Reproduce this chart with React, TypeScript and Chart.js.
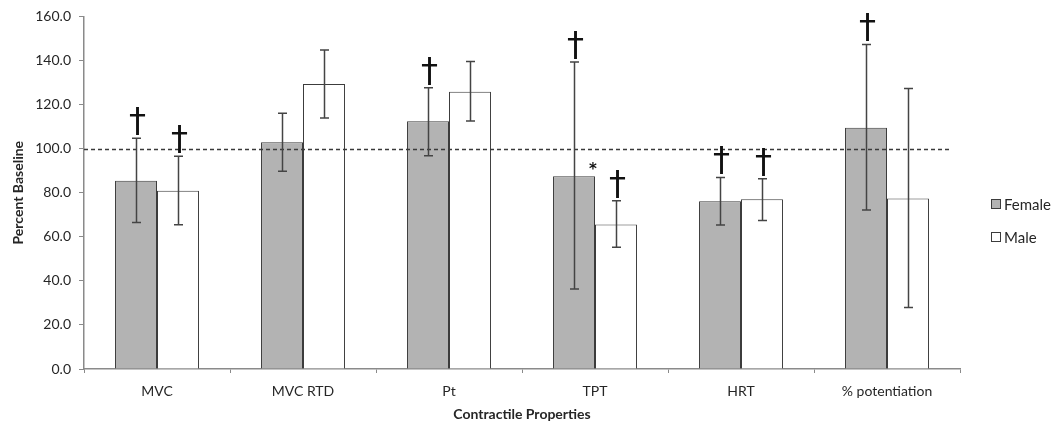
import React, { useEffect, useRef } from "react";
import { Chart, registerables } from "chart.js";

Chart.register(...registerables);

const categories = ["MVC", "MVC RTD", "Pt", "TPT", "HRT", "% potentiation"];
const femaleMeans = [85.4, 102.9, 112.4, 87.5, 76.1, 109.5];
const femaleUpper = [104.7, 116.1, 127.6, 139.3, 86.9, 147.3];
const femaleLower = [66.5, 89.7, 96.8, 36.3, 65.3, 72.1];
const maleMeans = [80.9, 129.3, 125.8, 65.6, 77.0, 77.4];
const maleUpper = [96.5, 144.7, 139.5, 76.4, 86.3, 127.3];
const maleLower = [65.5, 113.9, 112.5, 55.3, 67.4, 27.9];
const femaleMarks = ["†", "", "†", "†", "†", "†"];
const maleMarks = ["†", "", "", "†", "†", ""];
const femaleStars = ["", "", "", "*", "", ""];
const seriesNames = ["Female", "Male"];
const yMin = 0;
const yMax = 160;
const yStep = 20;
const baselineValue = 100;

const FONT = "Lato, 'Open Sans', sans-serif";
const FEMALE_FILL = "#b3b3b3";
const MALE_FILL = "#ffffff";
const BAR_BORDER = "#3c3c3c";
const TEXT = "#262626";

const overlayPlugin = {
  id: "overlay",
  afterDatasetsDraw(chart: any) {
    const ctx = chart.ctx;
    const y = chart.scales.y;
    const area = chart.chartArea;
    ctx.save();
    // baseline dashed line
    const by = Math.round(y.getPixelForValue(baselineValue)) + 0.5;
    ctx.strokeStyle = "#3a3a3a";
    ctx.lineWidth = 1.5;
    ctx.setLineDash([4, 3]);
    ctx.beginPath();
    ctx.moveTo(area.left, by);
    ctx.lineTo(area.right - 10, by);
    ctx.stroke();
    ctx.setLineDash([]);

    const errs = [
      { up: femaleUpper, lo: femaleLower, marks: femaleMarks, stars: femaleStars },
      { up: maleUpper, lo: maleLower, marks: maleMarks, stars: ["", "", "", "", "", ""] },
    ];
    errs.forEach((e, di) => {
      const meta = chart.getDatasetMeta(di);
      meta.data.forEach((bar: any, i: number) => {
        const x = Math.round(bar.x) + 0.5;
        const yt = y.getPixelForValue(e.up[i]);
        const yb = y.getPixelForValue(e.lo[i]);
        ctx.strokeStyle = "#444444";
        ctx.lineWidth = 1.5;
        ctx.beginPath();
        ctx.moveTo(x, yt);
        ctx.lineTo(x, yb);
        ctx.moveTo(x - 4.5, yt);
        ctx.lineTo(x + 4.5, yt);
        ctx.moveTo(x - 4.5, yb);
        ctx.lineTo(x + 4.5, yb);
        ctx.stroke();
        if (e.marks[i]) {
          ctx.font = "34px 'DejaVu Sans', sans-serif";
          ctx.fillStyle = "#111";
          ctx.textAlign = "center";
          const m = ctx.measureText(e.marks[i]);
          const desc = m.actualBoundingBoxDescent || 0;
          ctx.textBaseline = "alphabetic";
          ctx.fillText(e.marks[i], x + 1, yt - 3 - desc);
        }
        if (e.stars[i]) {
          ctx.font = "bold 15px 'DejaVu Sans', sans-serif";
          ctx.fillStyle = "#111";
          ctx.textAlign = "center";
          ctx.textBaseline = "alphabetic";
          const rightEdge = bar.x + bar.width / 2;
          const topY = y.getPixelForValue(femaleMeans[i]);
          ctx.fillText(e.stars[i], rightEdge - 2, topY - 2);
        }
      });
    });

    // legend
    ctx.font = `15px ${FONT}`;
    ctx.textAlign = "left";
    ctx.textBaseline = "middle";
    const fills = [FEMALE_FILL, MALE_FILL];
    seriesNames.forEach((name, i) => {
      const ly = 204 + i * 33;
      ctx.fillStyle = fills[i];
      ctx.fillRect(991.5, ly - 4.5, 9, 9);
      ctx.strokeStyle = BAR_BORDER;
      ctx.lineWidth = 1;
      ctx.strokeRect(991.5, ly - 4.5, 9, 9);
      ctx.fillStyle = TEXT;
      ctx.fillText(name, 1004, ly + 1);
    });
    ctx.restore();
  },
};

export default function App() {
  const ref = useRef<HTMLCanvasElement>(null);
  useEffect(() => {
    const chart = new Chart(ref.current!, {
      type: "bar",
      data: {
        labels: categories,
        datasets: [
          {
            label: seriesNames[0],
            data: femaleMeans,
            backgroundColor: FEMALE_FILL,
            borderColor: BAR_BORDER,
            borderWidth: 1,
            barPercentage: 1,
            categoryPercentage: 0.575,
          },
          {
            label: seriesNames[1],
            data: maleMeans,
            backgroundColor: MALE_FILL,
            borderColor: BAR_BORDER,
            borderWidth: 1,
            barPercentage: 1,
            categoryPercentage: 0.575,
          },
        ],
      },
      options: {
        responsive: false,
        animation: false,
        layout: { padding: { top: 13, right: 99, left: 0, bottom: 0 } },
        plugins: { legend: { display: false }, tooltip: { enabled: false } },
        scales: {
          x: {
            grid: {
              drawOnChartArea: false,
              drawTicks: true,
              tickLength: 4,
              color: "#8a8a8a",
              offset: true,
            },
            border: { display: true, color: "#8a8a8a", width: 1.5 },
            ticks: {
              color: TEXT,
              font: { family: FONT, size: 14 },
              padding: 10,
              maxRotation: 0,
            },
            title: {
              display: true,
              text: "Contractile Properties",
              color: TEXT,
              font: { family: FONT, size: 14, weight: "bold" },
              padding: { top: 0, bottom: 7 },
            },
            afterFit(scale: any) {
              scale.height = 61;
            },
          },
          y: {
            min: yMin,
            max: yMax,
            ticks: {
              stepSize: yStep,
              color: TEXT,
              font: { family: FONT, size: 14 },
              padding: 8,
              callback: (v: any) => Number(v).toFixed(1),
            },
            grid: {
              drawOnChartArea: false,
              drawTicks: true,
              tickLength: 5,
              color: "#8a8a8a",
            },
            border: { display: true, color: "#8a8a8a", width: 1.5 },
            title: {
              display: true,
              text: "Percent Baseline",
              color: TEXT,
              font: { family: FONT, size: 14, weight: "bold" },
              padding: { top: 10, bottom: 0 },
            },
            afterFit(scale: any) {
              scale.width = 84;
            },
          },
        },
      },
      plugins: [overlayPlugin],
    });
    return () => chart.destroy();
  }, []);
  return (
    <div style={{ position: "absolute", left: 0, top: 0, width: 1059, height: 430, background: "#fff" }}>
      <canvas ref={ref} width={1059} height={430} />
    </div>
  );
}
